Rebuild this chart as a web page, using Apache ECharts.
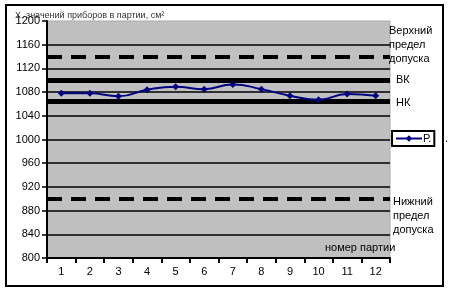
<!DOCTYPE html>
<html><head><meta charset="utf-8">
<script src="https://cdn.jsdelivr.net/npm/echarts@6/dist/echarts.min.js"></script>
<style>html,body{margin:0;padding:0;background:#fff}#c{width:451px;height:291px}</style>
</head><body><div id="c"></div>
<script>
var categories = ['1','2','3','4','5','6','7','8','9','10','11','12'];
var values = [1078, 1078, 1073, 1084, 1089, 1085, 1093, 1085, 1074, 1067, 1077, 1074];
var controlLimits = [1100, 1064];   // ВК, НК
var toleranceLimits = [1140, 900];  // верхний / нижний предел допуска
var yTicks = {min: 800, max: 1200, step: 40};

var F = 'Liberation Sans, Arial, sans-serif';
var chart = echarts.init(document.getElementById('c'), null, {renderer: 'canvas'});
chart.setOption({
  animation: false,
  textStyle: {fontFamily: F},
  title: {text: 'Х, значений приборов в партии, см²', left: 10, top: 6,
    textStyle: {fontSize: 9, fontWeight: 'normal', color: '#333', fontFamily: F}},
  grid: {left: 47, right: 61, top: 21, bottom: 33, show: true,
    backgroundColor: '#c0c0c0', borderColor: '#aaa', borderWidth: 1},
  legend: {left: 392, top: 131, orient: 'vertical', borderColor: '#000', borderWidth: 2,
    padding: [2, 3, 2, 3], itemWidth: 26, itemHeight: 8, itemGap: 0,
    textStyle: {fontSize: 11, color: '#000', padding: [0,0,0,-4]},
    data: [{name: 'Р.'}]},
  xAxis: {type: 'category', data: categories, boundaryGap: true,
    axisLine: {lineStyle: {color: '#000', width: 2}},
    axisTick: {show: true, length: 5, inside: false, lineStyle: {color: '#000', width: 2}},
    axisLabel: {color: '#000', fontSize: 11, margin: 8, interval: 0},
    splitLine: {show: false}},
  yAxis: {type: 'value', min: yTicks.min, max: yTicks.max, interval: yTicks.step,
    axisLine: {show: true, lineStyle: {color: '#000', width: 2}},
    axisTick: {show: true, length: 5, inside: false, lineStyle: {color: '#000', width: 1.5}},
    axisLabel: {color: '#000', fontSize: 11, margin: 7, formatter: function (v) { return String(v); }},
    splitLine: {show: true, showMinLine: false, showMaxLine: false, lineStyle: {color: '#000', width: 1.5}}},
  series: [{
    name: 'Р.', type: 'line', data: values, smooth: true,
    symbol: 'diamond', symbolSize: 7,
    lineStyle: {color: '#000080', width: 2},
    itemStyle: {color: '#000080'},
    z: 5,
    markLine: {silent: true, symbol: 'none', label: {show: false},
      data: [
        {yAxis: controlLimits[0], lineStyle: {color: '#000', width: 5, type: 'solid'}},
        {yAxis: controlLimits[1], lineStyle: {color: '#000', width: 5, type: 'solid'}},
        {yAxis: toleranceLimits[0], lineStyle: {color: '#000', width: 4, type: [15, 9]}},
        {yAxis: toleranceLimits[1], lineStyle: {color: '#000', width: 4, type: [15, 9]}}
      ]}
  }],
  graphic: [
    {type: 'rect', shape: {x: 6, y: 5, width: 437, height: 281},
      style: {fill: 'none', stroke: '#000', lineWidth: 2}, z: 100},
    {type: 'text', left: 389, top: 24, style: {text: 'Верхний\nпредел\nдопуска', font: '11px ' + F, fill: '#000', lineHeight: 14}},
    {type: 'text', left: 396, top: 74, style: {text: 'ВК', font: '11px ' + F, fill: '#000'}},
    {type: 'text', left: 396, top: 97, style: {text: 'НК', font: '11px ' + F, fill: '#000'}},
    {type: 'text', left: 393, top: 195, style: {text: 'Нижний\nпредел\nдопуска', font: '11px ' + F, fill: '#000', lineHeight: 14}},
    {type: 'text', left: 325, top: 242, style: {text: 'номер партии', font: '11px ' + F, fill: '#000'}},
    {type: 'text', left: 445, top: 133, style: {text: '.', font: '11px ' + F, fill: '#000'}}
  ]
});
</script></body></html>
